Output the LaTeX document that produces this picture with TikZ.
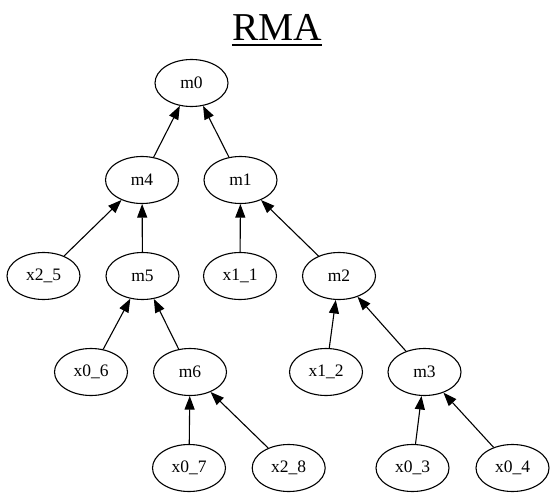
\documentclass[tikz,border=0pt]{standalone}
\usepackage{fontspec}
\setmainfont{Liberation Serif}
\usetikzlibrary{shapes.geometric,arrows.meta}
\begin{document}
\begin{tikzpicture}[x=1pt,y=-1pt,
  gnode/.style={ellipse,draw,line width=1.1pt,minimum width=73pt,minimum height=47pt,inner sep=0pt,
    font=\fontsize{17.5}{20}\selectfont},
  gedge/.style={draw,line width=1.1pt,-{Triangle[length=13.5pt,width=10pt]}}]
\useasboundingbox (0,0) rectangle (556,497);
\node[anchor=base,inner sep=0pt,font=\fontsize{39.5}{44}\selectfont] (title) at (277,41) {RMA};
\draw[line width=2pt] ([yshift=-4.5pt]title.base west) -- ([yshift=-4.5pt]title.base east);
\node[gnode] (m0) at (191.5,83) {m0};
\node[gnode] (m4) at (142,180) {m4};
\node[gnode] (m1) at (240.5,180) {m1};
\node[gnode] (x25) at (43.5,276) {x2\_5};
\node[gnode] (m5) at (142.5,276) {m5};
\node[gnode] (x11) at (240,276) {x1\_1};
\node[gnode] (m2) at (339,276) {m2};
\node[gnode] (x06) at (91,372) {x0\_6};
\node[gnode] (m6) at (190,372) {m6};
\node[gnode] (x12) at (326,372) {x1\_2};
\node[gnode] (m3) at (424.5,372) {m3};
\node[gnode] (x07) at (189,468) {x0\_7};
\node[gnode] (x28) at (288.7,468) {x2\_8};
\node[gnode] (x03) at (412.5,468) {x0\_3};
\node[gnode] (x04) at (512.5,468) {x0\_4};
\path[gedge] (m4) -- (m0);
\path[gedge] (m1) -- (m0);
\path[gedge] (x25) -- (m4);
\path[gedge] (m5) -- (m4);
\path[gedge] (x11) -- (m1);
\path[gedge] (m2) -- (m1);
\path[gedge] (x06) -- (m5);
\path[gedge] (m6) -- (m5);
\path[gedge] (x12) -- (m2);
\path[gedge] (m3) -- (m2);
\path[gedge] (x07) -- (m6);
\path[gedge] (x28) -- (m6);
\path[gedge] (x03) -- (m3);
\path[gedge] (x04) -- (m3);
\end{tikzpicture}
\end{document}
